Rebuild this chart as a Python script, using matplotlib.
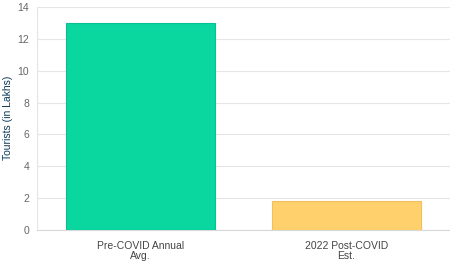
import matplotlib.pyplot as plt

plt.rcParams['font.family'] = ['Liberation Sans', 'DejaVu Sans']

categories = ["Pre-COVID Annual\nAvg.", "2022 Post-COVID\nEst."]
tourists = [13.0, 1.8]
colors = ["#0AD6A0", "#FFD06B"]
edges = ["#09C093", "#F0C060"]

fig = plt.figure(figsize=(4.5, 2.62), dpi=100)
ax = fig.add_axes([0.0833, 0.122, 0.9156, 0.851])

x = range(len(categories))
ax.bar(x, tourists, width=0.72, color=colors, edgecolor=edges, linewidth=0.8, zorder=3)

ax.set_xlim(-0.5, 1.5)
ax.set_ylim(0, 14)
ax.set_yticks(range(0, 15, 2))
ax.set_xticks(list(x))
ax.set_xticklabels(categories, fontsize=7.5, color="#444444", linespacing=1.0)
ax.tick_params(axis="y", labelsize=7.5, colors="#666666", length=0, pad=6)
ax.tick_params(axis="x", length=0, pad=8)

# y label placed in figure coords so it stays inside the canvas
fig.text(0.018, 0.55, "Tourists (in Lakhs)", rotation=90, fontsize=7.5,
         color="#0B3954", ha="center", va="center")

ax.grid(axis="y", color="#E6E6E6", linewidth=0.8, zorder=0)
for s in ["top", "right"]:
    ax.spines[s].set_visible(False)
ax.spines["left"].set_color("#E6E6E6")
ax.spines["bottom"].set_color("#D8D8D8")

fig.savefig("out.png", dpi=100)
